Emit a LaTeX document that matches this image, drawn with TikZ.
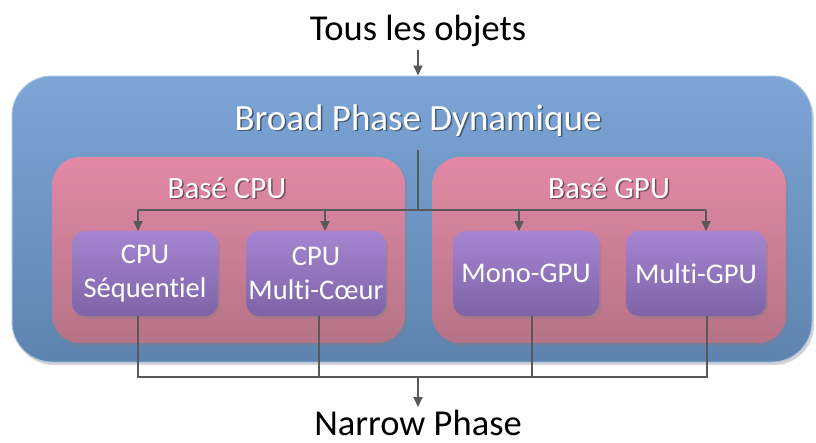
\documentclass[tikz,border=0pt]{standalone}
\usepackage{fontspec}
\setmainfont{Carlito}[Ligatures={NoCommon}]
\usetikzlibrary{shadows,arrows.meta,calc}
\definecolor{lineg}{HTML}{595959}
\definecolor{blueT}{HTML}{7CA5D6}
\definecolor{blueB}{HTML}{5E83AE}
\definecolor{pinkT}{HTML}{E289A6}
\definecolor{pinkB}{HTML}{B57387}
\definecolor{purT}{HTML}{A585D2}
\definecolor{purB}{HTML}{7E64A6}
\tikzset{
  conn/.style={draw=lineg, line width=2pt},
  arr/.style={conn, -{Triangle[length=10pt,width=9pt]}},
  outerbox/.style={rounded corners=40pt, top color=blueT, bottom color=blueB, draw=blueT!70!white, line width=1pt,
     drop shadow={shadow xshift=2pt, shadow yshift=-3pt, opacity=0.35}},
  pinkbox/.style={rounded corners=28pt, top color=pinkT, bottom color=pinkB,
     drop shadow={shadow xshift=2pt, shadow yshift=-3pt, opacity=0.35}},
  purbox/.style={rounded corners=13pt, top color=purT, bottom color=purB, align=center, text=white,
     font=\fontsize{28.5pt}{34pt}\selectfont, inner sep=0pt,
     drop shadow={shadow xshift=2pt, shadow yshift=-3pt, opacity=0.35}},
  wtext/.style={text=white, inner sep=0pt, anchor=base},
  stext/.style={text=black, opacity=0.45, inner sep=0pt, anchor=base},
}
\begin{document}
\begin{tikzpicture}[x=1pt,y=-1pt]
\useasboundingbox (0,0) rectangle (816,442);
% title
\node[inner sep=0pt, anchor=base, font=\fontsize{36.5pt}{40pt}\selectfont] (tous) at (418,40) {Tous les objets};
\node[inner sep=0pt, anchor=base, font=\fontsize{36.5pt}{40pt}\selectfont] (narrow) at (418,435) {Narrow Phase};
% outer box
\node[outerbox, minimum width=800pt, minimum height=286pt] (outer) at (412,219) {};
\node[stext, font=\fontsize{37pt}{40pt}\selectfont] at (419.5,131.5) {Broad Phase Dynamique};
\node[wtext, font=\fontsize{37pt}{40pt}\selectfont] (broad) at (418,130) {Broad Phase Dynamique};
% pink boxes
\node[pinkbox, minimum width=353pt, minimum height=186pt] (cpu) at (228.5,250) {};
\node[pinkbox, minimum width=354pt, minimum height=186pt] (gpu) at (609,250) {};
\node[stext, font=\fontsize{31pt}{36pt}\selectfont] at (228.5,199.5) {Basé CPU};
\node[wtext, font=\fontsize{31pt}{36pt}\selectfont] (cpul) at (227,198) {Basé CPU};
\node[stext, font=\fontsize{31pt}{36pt}\selectfont] at (610.5,199.5) {Basé GPU};
\node[wtext, font=\fontsize{31pt}{36pt}\selectfont] (gpul) at (609,198) {Basé GPU};
% purple boxes
\node[purbox, minimum width=146pt, minimum height=85pt] (b1) at (145,273.5) {CPU\\Séquentiel};
\node[purbox, minimum width=140pt, minimum height=85pt] (b2) at (316,273.5) {CPU\\Multi-Cœur};
\node[purbox, minimum width=146pt, minimum height=85pt] (b3) at (526,273.5) {Mono-GPU};
\node[purbox, minimum width=140pt, minimum height=85pt] (b4) at (696,273.5) {Multi-GPU};
% coordinates
\coordinate (split) at (418,210);
\coordinate (bstart) at (418,150);
\coordinate (join) at (418,377);
% top connectors
\draw[arr] (tous.south |- 0,50) -- (outer.north -| tous.south);
\draw[conn] (bstart) -- (split);
\draw[conn] (138,210) -- (706,210);
\draw[arr] (138,210) -- (138,231);
\draw[arr] (325,210) -- (325,231);
\draw[arr] (519,210) -- (519,231);
\draw[arr] (706,210) -- (706,231);
% bottom connectors
\draw[conn] (138,316) -- (138,377) -- (707,377) -- (707,316);
\draw[conn] (319,316) -- (319,377);
\draw[conn] (532,316) -- (532,377);
\draw[arr] (join) -- (418,407);
\end{tikzpicture}
\end{document}
